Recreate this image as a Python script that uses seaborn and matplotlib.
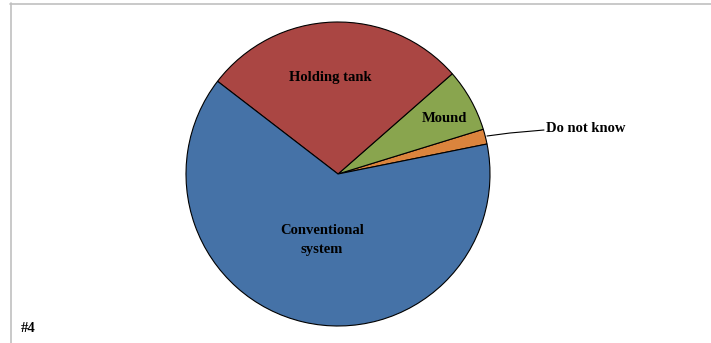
import matplotlib
matplotlib.use("Agg")
import matplotlib.pyplot as plt
import seaborn as sns
from matplotlib.lines import Line2D

categories = ["Do not know", "Mound", "Holding tank", "Conventional system"]
values = [1.6, 6.7, 28.1, 63.6]
colors = ["#DB843D", "#89A54E", "#AA4643", "#4572A7"]
label_texts = ["Do not know", "Mound", "Holding tank", "Conventional\nsystem"]

sns.set_theme(style="white")
plt.rcParams['font.family'] = ['Liberation Serif', 'DejaVu Serif']
plt.rcParams['text.color'] = 'black'

W, H = 711, 343
fig = plt.figure(figsize=(W / 100, H / 100), dpi=100)
ax = fig.add_axes([0, 0, 1, 1])

cx, cy, r = 338, H - 174, 152
ax.pie(values, colors=colors, startangle=11.38, counterclock=True,
       center=(cx, cy), radius=r,
       wedgeprops=dict(edgecolor="black", linewidth=0.8))
ax.set_xlim(0, W)
ax.set_ylim(0, H)
ax.set_aspect("equal")
ax.axis("off")

fs = 10.5
kw = dict(fontsize=fs, fontweight="bold", color="black")
ax.text(330, H - 78, label_texts[2], ha="center", va="center", **kw)
ax.text(444, H - 118, label_texts[1], ha="center", va="center", **kw)
ax.text(322, H - 240, label_texts[3], ha="center", va="center", linespacing=1.55, **kw)
ax.plot([487, 510, 544], [H - 136, H - 133, H - 130], color="black", linewidth=0.8)
ax.text(546, H - 128, label_texts[0], ha="left", va="center", **kw)

ax.text(21, H - 328, "#4", ha="left", va="center", fontsize=10.5, fontweight="bold", color="black")

fig.add_artist(Line2D([10.5 / W, 10.5 / W], [0, 1 - 3 / H], transform=fig.transFigure,
                      color="#c0c0c0", linewidth=1.2))
fig.add_artist(Line2D([10 / W, 1], [1 - 3.5 / H, 1 - 3.5 / H], transform=fig.transFigure,
                      color="#c0c0c0", linewidth=1.2))

fig.savefig("out.png", dpi=100, facecolor="white")
